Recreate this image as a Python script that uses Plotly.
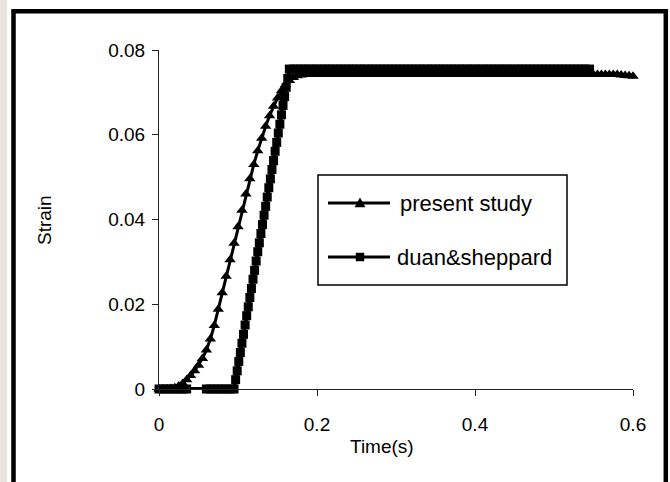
import plotly.graph_objects as go

# ---------------- data ----------------
time_present = [
    0.000, 0.005, 0.010, 0.015, 0.020, 0.025, 0.030, 0.035, 0.040, 0.045,
    0.050, 0.055, 0.060, 0.065, 0.070, 0.075, 0.080, 0.085, 0.090, 0.095,
    0.100, 0.105, 0.110, 0.115, 0.120, 0.125, 0.130, 0.135, 0.140, 0.145,
    0.150, 0.155, 0.160, 0.165, 0.170, 0.175, 0.180, 0.185, 0.190, 0.195,
    0.200, 0.205, 0.210, 0.215, 0.220, 0.225, 0.230, 0.235, 0.240, 0.245,
    0.250, 0.255, 0.260, 0.265, 0.270, 0.275, 0.280, 0.285, 0.290, 0.295,
    0.300, 0.305, 0.310, 0.315, 0.320, 0.325, 0.330, 0.335, 0.340, 0.345,
    0.350, 0.355, 0.360, 0.365, 0.370, 0.375, 0.380, 0.385, 0.390, 0.395,
    0.400, 0.405, 0.410, 0.415, 0.420, 0.425, 0.430, 0.435, 0.440, 0.445,
    0.450, 0.455, 0.460, 0.465, 0.470, 0.475, 0.480, 0.485, 0.490, 0.495,
    0.500, 0.505, 0.510, 0.515, 0.520, 0.525, 0.530, 0.535, 0.540, 0.545,
    0.550, 0.555, 0.560, 0.565, 0.570, 0.575, 0.580, 0.585, 0.590, 0.595,
    0.600,
]
strain_present = [
    0.0000, 0.0000, 0.0000, 0.0001, 0.0003, 0.0007, 0.0013, 0.0022, 0.0032, 0.0043,
    0.0056, 0.0072, 0.0092, 0.0118, 0.0150, 0.0188, 0.0227, 0.0266, 0.0305, 0.0344,
    0.0383, 0.0422, 0.0460, 0.0496, 0.0530, 0.0562, 0.0592, 0.0620, 0.0645, 0.0667,
    0.0687, 0.0704, 0.0718, 0.0728, 0.0735, 0.0739, 0.0741, 0.0742, 0.0742, 0.0742,
    0.0742, 0.0742, 0.0742, 0.0742, 0.0742, 0.0742, 0.0742, 0.0742, 0.0742, 0.0742,
    0.0742, 0.0742, 0.0742, 0.0742, 0.0742, 0.0742, 0.0742, 0.0742, 0.0742, 0.0742,
    0.0742, 0.0742, 0.0742, 0.0742, 0.0742, 0.0742, 0.0742, 0.0742, 0.0742, 0.0742,
    0.0742, 0.0742, 0.0742, 0.0742, 0.0742, 0.0742, 0.0742, 0.0742, 0.0742, 0.0742,
    0.0742, 0.0742, 0.0742, 0.0742, 0.0742, 0.0742, 0.0742, 0.0742, 0.0742, 0.0742,
    0.0742, 0.0742, 0.0742, 0.0742, 0.0742, 0.0742, 0.0742, 0.0742, 0.0742, 0.0742,
    0.0742, 0.0742, 0.0742, 0.0742, 0.0742, 0.0742, 0.0742, 0.0742, 0.0742, 0.0742,
    0.0742, 0.0742, 0.0742, 0.0742, 0.0742, 0.0742, 0.0742, 0.0741, 0.0740, 0.0739,
    0.0738,
]

time_duan = [
    0.000, 0.005, 0.010, 0.015, 0.020, 0.025, 0.030, 0.035,
    0.060, 0.065, 0.070, 0.075, 0.080, 0.085, 0.090, 0.095,
    0.097, 0.099, 0.101, 0.103, 0.105, 0.107, 0.109, 0.111, 0.113, 0.115,
    0.117, 0.119, 0.121, 0.123, 0.125, 0.127, 0.129, 0.131, 0.133, 0.135,
    0.137, 0.139, 0.141, 0.143, 0.145, 0.147, 0.149, 0.151, 0.153, 0.155,
    0.157, 0.159, 0.161, 0.163, 0.165,
    0.170, 0.175, 0.180, 0.185, 0.190, 0.195,
    0.200, 0.205, 0.210, 0.215, 0.220, 0.225, 0.230, 0.235, 0.240, 0.245,
    0.250, 0.255, 0.260, 0.265, 0.270, 0.275, 0.280, 0.285, 0.290, 0.295,
    0.300, 0.305, 0.310, 0.315, 0.320, 0.325, 0.330, 0.335, 0.340, 0.345,
    0.350, 0.355, 0.360, 0.365, 0.370, 0.375, 0.380, 0.385, 0.390, 0.395,
    0.400, 0.405, 0.410, 0.415, 0.420, 0.425, 0.430, 0.435, 0.440, 0.445,
    0.450, 0.455, 0.460, 0.465, 0.470, 0.475, 0.480, 0.485, 0.490, 0.495,
    0.500, 0.505, 0.510, 0.515, 0.520, 0.525, 0.530, 0.535, 0.540, 0.545,
]
strain_duan = [
    0.0, 0.0, 0.0, 0.0, 0.0, 0.0, 0.0, 0.0,
    0.0, 0.0, 0.0, 0.0, 0.0, 0.0, 0.0, 0.0,
    0.0022, 0.0043, 0.0065, 0.0086, 0.0108, 0.0129, 0.0151, 0.0173, 0.0194, 0.0216,
    0.0237, 0.0259, 0.0280, 0.0302, 0.0324, 0.0345, 0.0367, 0.0388, 0.0410, 0.0431,
    0.0453, 0.0475, 0.0496, 0.0518, 0.0539, 0.0561, 0.0582, 0.0604, 0.0625, 0.0647,
    0.0669, 0.0690, 0.0712, 0.0733, 0.0755,
    0.0755, 0.0755, 0.0755, 0.0755, 0.0755, 0.0755,
    0.0755, 0.0755, 0.0755, 0.0755, 0.0755, 0.0755, 0.0755, 0.0755, 0.0755, 0.0755,
    0.0755, 0.0755, 0.0755, 0.0755, 0.0755, 0.0755, 0.0755, 0.0755, 0.0755, 0.0755,
    0.0755, 0.0755, 0.0755, 0.0755, 0.0755, 0.0755, 0.0755, 0.0755, 0.0755, 0.0755,
    0.0755, 0.0755, 0.0755, 0.0755, 0.0755, 0.0755, 0.0755, 0.0755, 0.0755, 0.0755,
    0.0755, 0.0755, 0.0755, 0.0755, 0.0755, 0.0755, 0.0755, 0.0755, 0.0755, 0.0755,
    0.0755, 0.0755, 0.0755, 0.0755, 0.0755, 0.0755, 0.0755, 0.0755, 0.0755, 0.0755,
    0.0755, 0.0755, 0.0755, 0.0755, 0.0755, 0.0755, 0.0755, 0.0755, 0.0755, 0.0755,
]

x_ticks = [0, 0.2, 0.4, 0.6]
x_ticktext = ["0", "0.2", "0.4", "0.6"]
y_ticks = [0, 0.02, 0.04, 0.06, 0.08]
y_ticktext = ["0", "0.02", "0.04", "0.06", "0.08"]

series_names = ["present study", "duan&sheppard"]
x_title = "Time(s)"
y_title = "Strain"

# ---------------- layout geometry ----------------
W, H = 670, 482
L, R, T, B = 159, 37, 50, 93
PW, PH = W - L - R, H - T - B
FONT = "Liberation Sans, Arial, sans-serif"


def px(x):
    return (x - L) / PW


def py(y):
    return (H - B - y) / PH


fig = go.Figure()
fig.add_trace(go.Scatter(
    x=time_present, y=strain_present, name=series_names[0],
    mode="lines+markers", cliponaxis=False, showlegend=False,
    line=dict(color="black", width=3),
    marker=dict(symbol="triangle-up", size=10, color="black"),
))
fig.add_trace(go.Scatter(
    x=time_duan, y=strain_duan, name=series_names[1],
    mode="lines+markers", cliponaxis=False, showlegend=False,
    line=dict(color="black", width=4),
    marker=dict(symbol="square", size=9, color="black"),
))

shapes = [
    # beige strip at the far left (background picture)
    dict(type="rect", xref="paper", yref="paper", layer="below",
         x0=px(0), x1=px(7), y0=py(0), y1=py(H),
         fillcolor="#ebe4dc", line=dict(width=0)),
    # outer black frame
    dict(type="rect", xref="paper", yref="paper", layer="above",
         x0=px(13.5), x1=px(665.8), y0=py(11.2), y1=py(500),
         fillcolor="rgba(0,0,0,0)", line=dict(color="black", width=4.5)),
    # legend box
    dict(type="rect", xref="paper", yref="paper", layer="above",
         x0=px(318), x1=px(567), y0=py(175), y1=py(285),
         fillcolor="white", line=dict(color="black", width=1.5)),
    # legend lines
    dict(type="line", xref="paper", yref="paper", layer="above",
         x0=px(328), x1=px(390), y0=py(203), y1=py(203),
         line=dict(color="black", width=3)),
    dict(type="line", xref="paper", yref="paper", layer="above",
         x0=px(328), x1=px(390), y0=py(257), y1=py(257),
         line=dict(color="black", width=3)),
    # legend triangle
    dict(type="path", xref="paper", yref="paper", layer="above",
         path="M {:.5f},{:.5f} L {:.5f},{:.5f} L {:.5f},{:.5f} Z".format(
             px(355), py(207), px(365), py(207), px(360), py(198)),
         fillcolor="black", line=dict(color="black", width=0.5)),
    # legend square
    dict(type="rect", xref="paper", yref="paper", layer="above",
         x0=px(356), x1=px(364), y0=py(253), y1=py(261),
         fillcolor="black", line=dict(color="black", width=0.5)),
]

annotations = [
    dict(text=series_names[0], xref="paper", yref="paper",
         x=px(398), y=py(203), xanchor="left", yanchor="middle",
         showarrow=False, font=dict(family=FONT, size=22, color="black")),
    dict(text=series_names[1], xref="paper", yref="paper",
         x=px(395), y=py(257), xanchor="left", yanchor="middle",
         showarrow=False, font=dict(family=FONT, size=22, color="black")),
    dict(text=x_title, xref="paper", yref="paper",
         x=px(382), y=py(446), xanchor="center", yanchor="middle",
         showarrow=False, font=dict(family=FONT, size=19, color="black")),
    dict(text=y_title, xref="paper", yref="paper", textangle=-90,
         x=px(44), y=py(220), xanchor="center", yanchor="middle",
         showarrow=False, font=dict(family=FONT, size=19, color="black")),
]

axis_common = dict(
    showgrid=False, zeroline=False, showline=True,
    linecolor="#222222", linewidth=1,
    ticks="outside", ticklen=6, tickwidth=1, tickcolor="#222222",
    tickfont=dict(family=FONT, size=19, color="black"),
)

fig.update_layout(
    width=W, height=H,
    margin=dict(l=L, r=R, t=T, b=B, pad=0),
    paper_bgcolor="white", plot_bgcolor="rgba(0,0,0,0)",
    showlegend=False,
    xaxis=dict(range=[0, 0.6], tickmode="array", tickvals=x_ticks,
               ticktext=x_ticktext, ticklabelstandoff=12, **axis_common),
    yaxis=dict(range=[0, 0.08], tickmode="array", tickvals=y_ticks,
               ticktext=y_ticktext, ticklabelstandoff=3, **axis_common),
    shapes=shapes,
    annotations=annotations,
)

fig.write_html("out.html")
